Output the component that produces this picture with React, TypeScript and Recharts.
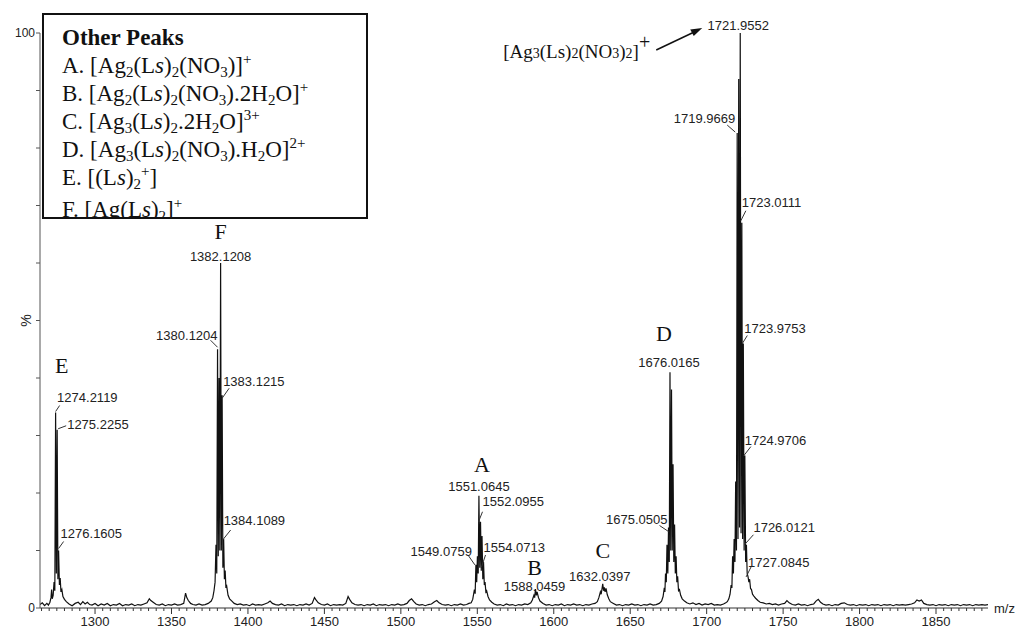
import React from 'react';
import { LineChart, Line, XAxis, YAxis, ReferenceDot } from 'recharts';

// spectrum pieces, [m/z, %]
const noise: [number, number][] = [
  [1264, 0.6], [1265.5, 0.9], [1267, 0.4], [1268.5, 0.8], [1269.5, 0.5],
  [1283, 0.7], [1285, 0.4], [1287, 0.8], [1289, 1.0], [1290.5, 0.6], [1292, 1.1], [1293.5, 0.7], [1295, 1.0], [1296.5, 0.6], [1298, 0.5],
  [1300, 0.8], [1302, 0.4], [1304, 0.7], [1306, 0.5], [1308, 0.8], [1310, 0.4], [1312, 0.6], [1314, 0.5], [1316, 0.8], [1318, 0.4],
  [1320, 0.6], [1322, 0.5], [1324, 0.7], [1326, 0.4], [1328, 0.6], [1330, 0.5], [1332, 0.7], [1334, 0.9], [1335.5, 1.6], [1336.5, 1.3],
  [1338, 1.0], [1340, 0.6], [1342, 0.5], [1344, 0.7], [1346, 0.4], [1348, 0.6], [1350, 0.5], [1352, 0.7], [1354, 0.5], [1356, 0.6],
  [1358, 0.8], [1359.2, 2.6], [1360, 1.8], [1361, 1.3], [1362.5, 0.8], [1364, 0.6], [1366, 0.5], [1368, 0.7], [1370, 0.5], [1372, 0.6], [1374, 0.8],
  [1391, 0.8], [1393, 0.6], [1395, 0.7], [1397, 0.5], [1399, 0.6], [1401, 0.4], [1403, 0.7], [1405, 0.5], [1407, 0.6], [1409, 0.5],
  [1411, 0.7], [1413, 0.9], [1414.5, 1.2], [1416, 0.8], [1418, 0.6], [1420, 0.5], [1422, 0.7], [1424, 0.4], [1426, 0.6], [1428, 0.5],
  [1430, 0.6], [1432, 0.4], [1434, 0.6], [1436, 0.5], [1438, 0.7], [1440, 0.5], [1442, 0.8], [1443.5, 1.8], [1444.5, 1.4], [1446, 0.9],
  [1448, 0.6], [1450, 0.5], [1452, 0.7], [1454, 0.4], [1456, 0.6], [1458, 0.5], [1460, 0.6], [1462, 0.5], [1464, 0.8], [1465.5, 2.0],
  [1466.5, 1.5], [1468, 0.9], [1470, 0.6], [1472, 0.5], [1474, 0.6], [1476, 0.4], [1478, 0.6], [1480, 0.5], [1482, 0.7], [1484, 0.4],
  [1486, 0.6], [1488, 0.5], [1490, 0.6], [1492, 0.4], [1494, 0.6], [1496, 0.5], [1498, 0.7], [1500, 0.5], [1502, 0.6], [1504, 0.8],
  [1505.5, 1.3], [1507, 1.6], [1508.5, 1.1], [1510, 0.7], [1512, 0.5], [1514, 0.6], [1516, 0.4], [1518, 0.6], [1520, 0.7], [1522, 1.1],
  [1523.5, 1.3], [1525, 0.9], [1527, 0.6], [1529, 0.5], [1531, 0.6], [1533, 0.4], [1535, 0.6], [1537, 0.5], [1539, 0.7], [1541, 0.5],
  [1543, 0.6], [1544.5, 0.8],
  [1561, 0.7], [1563, 0.5], [1565, 0.6], [1567, 0.4], [1569, 0.7], [1571, 0.5], [1573, 0.6], [1575, 0.4], [1577, 0.6], [1579, 0.5], [1581, 0.7], [1583, 0.6],
  [1593, 0.8], [1595, 0.5], [1597, 0.6], [1599, 0.4], [1601, 0.6], [1603, 0.5], [1605, 0.7], [1607, 0.4], [1609, 0.6], [1611, 0.5],
  [1613, 0.7], [1615, 0.5], [1617, 0.6], [1619, 0.4], [1621, 0.6], [1623, 0.5], [1625, 0.7], [1627, 0.8],
  [1639, 0.8], [1641, 0.5], [1643, 0.6], [1645, 0.4], [1647, 0.6], [1649, 0.5], [1651, 0.7], [1653, 0.5], [1655, 0.6], [1657, 0.4],
  [1659, 0.6], [1661, 0.5], [1663, 0.7], [1665, 0.5], [1667, 0.6], [1669, 0.8],
  [1687, 0.9], [1689, 0.7], [1691, 0.9], [1693, 0.6], [1695, 0.8], [1697, 0.5], [1699, 0.7], [1701, 0.6], [1703, 0.8], [1705, 0.5],
  [1707, 0.6], [1709, 0.5], [1711, 0.7], [1712.5, 0.9],
  [1737, 0.9], [1739, 0.7], [1741, 0.8], [1743, 0.6], [1745, 0.7], [1747, 0.5], [1749, 0.7], [1751, 0.8], [1752.5, 1.3], [1754, 0.9],
  [1756, 0.6], [1758, 0.5], [1760, 0.7], [1762, 0.5], [1764, 0.6], [1766, 0.4], [1768, 0.6], [1770, 0.7], [1771.5, 1.2], [1773, 1.5],
  [1774.5, 1.0], [1776, 0.7], [1778, 0.5], [1780, 0.6], [1782, 0.4], [1784, 0.6], [1786, 0.5], [1788, 0.8], [1790, 0.9], [1792, 0.6],
  [1794, 0.5], [1796, 0.6], [1798, 0.4], [1800, 0.6], [1802, 0.5], [1804, 0.6], [1806, 0.4], [1808, 0.6], [1810, 0.5], [1812, 0.6],
  [1814, 0.4], [1816, 0.6], [1818, 0.5], [1820, 0.6], [1822, 0.4], [1824, 0.6], [1826, 0.5], [1828, 0.6], [1830, 0.5], [1832, 0.6],
  [1834, 0.7], [1836, 0.9], [1837.5, 1.4], [1839, 1.2], [1840.5, 1.4], [1842, 0.8], [1844, 0.6], [1846, 0.5], [1848, 0.6], [1850, 0.4],
  [1852, 0.6], [1854, 0.5], [1856, 0.6], [1858, 0.4], [1860, 0.6], [1862, 0.5], [1864, 0.6], [1866, 0.4], [1868, 0.6], [1870, 0.5],
  [1872, 0.6], [1874, 0.4], [1876, 0.6], [1878, 0.5], [1880, 0.6], [1882, 0.5], [1884, 0.6],
];

const clusterE: [number, number][] = [
  [1270.5, 1.0], [1271.2, 1.8], [1271.6, 3.2], [1272.0, 1.6], [1272.6, 2.2], [1273.2, 4.5], [1273.7, 3.0], [1274.21, 34],
  [1274.7, 6], [1275.23, 31], [1275.7, 5], [1276.16, 10], [1276.7, 4], [1277.2, 5.2], [1277.7, 2.8], [1278.3, 3.2],
  [1279, 2], [1280, 1.5], [1281.2, 1.1],
];

const clusterF: [number, number][] = [
  [1376, 1.2], [1377, 1.8], [1377.8, 3], [1378.5, 4.5], [1379.1, 11], [1379.6, 6], [1380.12, 45], [1380.6, 9],
  [1381.1, 40], [1381.6, 10], [1382.12, 60], [1382.6, 10], [1383.12, 37], [1383.6, 7], [1384.11, 12], [1384.6, 5],
  [1385.1, 6.5], [1385.6, 3.5], [1386.1, 3.8], [1387, 2.2], [1388, 1.6], [1389.5, 1.2],
];

const clusterA: [number, number][] = [
  [1546, 0.9], [1547, 1.5], [1548.1, 3.2], [1548.6, 2.5], [1549.08, 7.5], [1549.6, 4.5], [1550.07, 9], [1550.6, 6],
  [1551.06, 19.5], [1551.6, 7], [1552.1, 15], [1552.6, 6.5], [1553.08, 12.5], [1553.6, 5], [1554.07, 8], [1554.6, 4],
  [1555.07, 4.5], [1555.6, 2.8], [1556.1, 3], [1557, 2], [1558, 1.4], [1559.5, 1],
];

const clusterB: [number, number][] = [
  [1585, 0.9], [1586, 1.4], [1587, 2.2], [1587.5, 1.8], [1588.05, 3.3], [1588.6, 2.2], [1589.1, 2.8], [1590, 1.8], [1591, 1.2],
];

const clusterC: [number, number][] = [
  [1628.5, 1.1], [1629.5, 1.8], [1630.5, 2.8], [1631, 2.4], [1631.6, 3.4], [1632.04, 4.2], [1632.6, 3], [1633.1, 3.6],
  [1633.6, 2.8], [1634.2, 3.4], [1635, 2.3], [1636, 1.6], [1637, 1.1],
];

const clusterD: [number, number][] = [
  [1670.5, 1.2], [1671.5, 2], [1672.3, 3.5], [1672.7, 2.8], [1673.1, 6], [1673.6, 4.5], [1674.05, 11], [1674.6, 6],
  [1675.05, 14], [1675.55, 8], [1676.02, 41], [1676.5, 10], [1677.02, 38], [1677.5, 10], [1678.02, 25], [1678.5, 8],
  [1679.02, 14.5], [1679.5, 6], [1680.02, 9], [1680.5, 4.5], [1681.02, 5.5], [1681.6, 3], [1682.2, 3.2], [1683, 2.2],
  [1684, 1.6], [1685.5, 1.2],
];

const clusterMain: [number, number][] = [
  [1713.5, 1.1], [1714.5, 1.6], [1715.3, 2.4], [1716, 4], [1716.5, 3.5], [1716.97, 9], [1717.5, 6], [1717.97, 12],
  [1718.5, 8], [1718.97, 22], [1719.5, 10], [1719.97, 82.6], [1720.5, 12], [1720.96, 92], [1721.5, 14], [1721.96, 100],
  [1722.5, 13], [1723.01, 67], [1723.5, 12], [1723.98, 46], [1724.5, 10], [1724.97, 26.5], [1725.5, 8], [1726.01, 11],
  [1726.5, 6], [1727.08, 5.4], [1727.6, 4.5], [1728.1, 5], [1728.7, 3.4], [1729.3, 3.2], [1730, 2.4], [1731, 2],
  [1732, 1.7], [1733.5, 1.3], [1735, 1],
];

// labelled peaks
const labelText = [
  '1274.2119', '1275.2255', '1276.1605', '1380.1204', '1382.1208', '1383.1215', '1384.1089',
  '1549.0759', '1551.0645', '1552.0955', '1554.0713', '1588.0459', '1632.0397', '1675.0505',
  '1676.0165', '1719.9669', '1721.9552', '1723.0111', '1723.9753', '1724.9706', '1726.0121', '1727.0845',
];
const labelInt = [34, 31, 10, 45, 60, 37, 12, 7.5, 19.5, 15, 8, 3.3, 4.2, 14, 41, 82.6, 100, 67, 46, 26.5, 11, 5.4];

const letters = ['E', 'F', 'A', 'B', 'C', 'D'];
const letterPeak = [0, 4, 8, 11, 12, 14];

const yTicks = [0, 10, 20, 30, 40, 50, 60, 70, 80, 90, 100];

const legendTitle = 'Other Peaks';
// parts: [text, kind]  kind: n normal, b sub, p sup, i italic
const legendLines: [string, string][][] = [
  [['A. [Ag', 'n'], ['2', 'b'], ['(L', 'n'], ['s', 'i'], [')', 'n'], ['2', 'b'], ['(NO', 'n'], ['3', 'b'], [')]', 'n'], ['+', 'p']],
  [['B. [Ag', 'n'], ['2', 'b'], ['(L', 'n'], ['s', 'i'], [')', 'n'], ['2', 'b'], ['(NO', 'n'], ['3', 'b'], [').2H', 'n'], ['2', 'b'], ['O]', 'n'], ['+', 'p']],
  [['C. [Ag', 'n'], ['3', 'b'], ['(L', 'n'], ['s', 'i'], [')', 'n'], ['2', 'b'], ['.2H', 'n'], ['2', 'b'], ['O]', 'n'], ['3+', 'p']],
  [['D. [Ag', 'n'], ['3', 'b'], ['(L', 'n'], ['s', 'i'], [')', 'n'], ['2', 'b'], ['(NO', 'n'], ['3', 'b'], [').H', 'n'], ['2', 'b'], ['O]', 'n'], ['2+', 'p']],
  [['E. [(L', 'n'], ['s', 'i'], [')', 'n'], ['2', 'b'], ['+', 'p'], [']', 'n']],
  [['F. [Ag(L', 'n'], ['s', 'i'], [')', 'n'], ['2', 'b'], [']', 'n'], ['+', 'p']],
];
const mainIon: [string, string][] = [['[Ag', 'n'], ['3', 'b'], ['(Ls)', 'n'], ['2', 'b'], ['(NO', 'n'], ['3', 'b'], [')', 'n'], ['2', 'b'], [']', 'n'], ['+', 'p']];

const spectrum = [...noise, ...clusterE, ...clusterF, ...clusterA, ...clusterB, ...clusterC, ...clusterD, ...clusterMain]
  .sort((a, b) => a[0] - b[0])
  .map(([mz, v]) => ({ mz, v }));

const minorTicks = Array.from({ length: 124 }, (_, i) => 1265 + i * 5);

const SANS = "'Liberation Sans', Arial, Helvetica, sans-serif";
const SERIF = "'Liberation Serif', 'Times New Roman', serif";

// label layout: anchor, dx, dy (text centre), connector [x1,y1,x2,y2] from apex
const labelLayout: [string, number, number, number[] | null][] = [
  ['start', 1.5, -15.5, [0, -1, 4, -7]],
  ['start', 10, -5, [1, -1, 9, -4]],
  ['start', 2, -17, [0, -2, 5, -9]],
  ['end', 0, -14, [-7, -9, 0, -2]],
  ['middle', 0, -7, null],
  ['start', 1, -14, [0, 3, 7, -7]],
  ['start', 0, -19, [-1, 1, 7, -9]],
  ['end', -4, -13, [-8, -10, -1, 0]],
  ['middle', 0, -9, null],
  ['start', 2, -20, [-2, 0, 2, -10]],
  ['start', 0, -15, [-2, 5, 2, -7]],
  ['middle', -1, -3, null],
  ['middle', -3, -7, null],
  ['end', -1, -8, [-9, -2, 0, 4]],
  ['middle', -1, -10, null],
  ['end', -2, -15, [-10, -8, -2, -1]],
  ['middle', -2, -8, null],
  ['start', 0, -20, [-1, -2, 4, -12]],
  ['start', 1, -15, [-1, 0, 4, -8]],
  ['start', 0, -15, [-1, 0, 6, -9]],
  ['start', 7, -17, [-2, 0, 7, -10]],
  ['start', 0, -15, [-2, 0, 3, -10]],
];
const letterLayout = [[6, -47], [0, -31], [3, -31], [-1, -21], [0, -33], [-6, -39]];

const XTick = (p: any) => {
  const major = p.payload.value % 50 === 0;
  return (
    <g>
      <line x1={p.x} y1={p.y} x2={p.x} y2={p.y + (major ? 6 : 3)} stroke="#333" />
      {major && (
        <text x={p.x} y={p.y + 18} textAnchor="middle" fontSize={13} fontFamily={SANS} fill="#222">
          {p.payload.value}
        </text>
      )}
    </g>
  );
};

const YTick = (p: any) => {
  const v = p.payload.value;
  return (
    <g>
      <line x1={p.x - 4} y1={p.y} x2={p.x} y2={p.y} stroke="#555" />
      {(v === 0 || v === 100) && (
        <text x={p.x - 5} y={p.y + 4} textAnchor="end" fontSize={12} fontFamily={SANS} fill="#222">
          {v}
        </text>
      )}
    </g>
  );
};

const partsToTspans = (parts: [string, string][]) =>
  parts.map(([t, k], i) => {
    if (k === 'b') return <tspan key={i} fontSize={14}>{t}</tspan>;
    if (k === 'p') return <tspan key={i} fontSize={20} dy={-9}>{t}</tspan>;
    return <tspan key={i}>{t}</tspan>;
  });

const htmlParts = (parts: [string, string][]) =>
  parts.map(([t, k], i) => {
    if (k === 'b') return <span key={i} style={{ fontSize: 15, lineHeight: 0, position: 'relative', top: 4 }}>{t}</span>;
    if (k === 'p') return <span key={i} style={{ fontSize: 15, lineHeight: 0, position: 'relative', top: -9 }}>{t}</span>;
    if (k === 'i') return <i key={i}>{t}</i>;
    return <span key={i}>{t}</span>;
  });

export default function App() {
  return (
    <div style={{ position: 'relative', width: 1018, height: 632, background: '#fff' }}>
      <style>{'body{margin:0;}'}</style>
      <LineChart width={1018} height={632} data={spectrum} margin={{ top: 33, right: 30, bottom: 0, left: 0 }}>
        <XAxis
          dataKey="mz"
          type="number"
          domain={[1264, 1884]}
          ticks={minorTicks}
          interval={0}
          tickSize={0}
          tickMargin={0}
          height={24}
          allowDataOverflow
          axisLine={{ stroke: '#333' }}
          tick={(p: any) => <XTick {...p} />}
        />
        <YAxis
          type="number"
          domain={[0, 100]}
          ticks={yTicks}
          interval={0}
          tickSize={0}
          tickMargin={0}
          width={40}
          axisLine={{ stroke: '#555' }}
          tick={(p: any) => <YTick {...p} />}
        />
        <Line dataKey="v" type="linear" stroke="#111" strokeWidth={1.2} dot={false} isAnimationActive={false} />

        {labelText.map((t, i) => {
          const [anchor, dx, dy, ln] = labelLayout[i];
          return (
            <ReferenceDot
              key={t}
              x={Number(t)}
              y={labelInt[i]}
              r={0}
              ifOverflow="visible"
              shape={(p: any) => (
                <g>
                  {ln && <line x1={p.cx + ln[0]} y1={p.cy + ln[1]} x2={p.cx + ln[2]} y2={p.cy + ln[3]} stroke="#333" />}
                  <text x={p.cx + dx} y={p.cy + dy + 4.6} textAnchor={anchor} fontSize={13} fontFamily={SANS} fill="#222">
                    {t}
                  </text>
                </g>
              )}
            />
          );
        })}

        {letters.map((l, i) => (
          <ReferenceDot
            key={l}
            x={Number(labelText[letterPeak[i]])}
            y={labelInt[letterPeak[i]]}
            r={0}
            ifOverflow="visible"
            shape={(p: any) => (
              <text x={p.cx + letterLayout[i][0]} y={p.cy + letterLayout[i][1] + 7.3} textAnchor="middle" fontSize={22} fontFamily={SERIF} fill="#111">
                {l}
              </text>
            )}
          />
        ))}

        <ReferenceDot
          x={Number(labelText[16])}
          y={labelInt[16]}
          r={0}
          ifOverflow="visible"
          shape={(p: any) => (
            <g>
              <text x={p.cx - 237} y={p.cy + 25} fontSize={19} fontFamily={SERIF} fill="#111">
                {partsToTspans(mainIon)}
              </text>
              <line x1={p.cx - 84} y1={p.cy + 17} x2={p.cx - 46} y2={p.cy - 1} stroke="#111" strokeWidth={1.5} />
              <path d={`M${p.cx - 38},${p.cy - 5} L${p.cx - 50},${p.cy - 3.5} L${p.cx - 46.5},${p.cy + 3} Z`} fill="#111" />
            </g>
          )}
        />

        <ReferenceDot
          x={1264}
          y={50}
          r={0}
          ifOverflow="visible"
          shape={(p: any) => (
            <text x={p.cx - 9} y={p.cy} transform={`rotate(-90 ${p.cx - 9} ${p.cy})`} textAnchor="middle" fontSize={14} fontFamily={SANS} fill="#222">
              %
            </text>
          )}
        />
        <ReferenceDot
          x={1884}
          y={0}
          r={0}
          ifOverflow="visible"
          shape={(p: any) => (
            <text x={p.cx + 6} y={p.cy + 5} fontSize={13} fontFamily={SANS} fill="#222">
              m/z
            </text>
          )}
        />
      </LineChart>

      <div
        style={{
          position: 'absolute',
          left: 42,
          top: 13,
          width: 304,
          height: 193,
          border: '2px solid #111',
          background: '#fff',
          overflow: 'hidden',
          fontFamily: SERIF,
          fontSize: 23,
          lineHeight: '28px',
          color: '#111',
          padding: '9px 0 0 18px',
          boxSizing: 'content-box',
          whiteSpace: 'nowrap',
        }}
      >
        <div style={{ fontWeight: 'bold' }}>{legendTitle}</div>
        {legendLines.map((parts, i) => (
          <div key={i} style={{ marginTop: i === legendLines.length - 1 ? 4 : 0 }}>
            {htmlParts(parts)}
          </div>
        ))}
      </div>
    </div>
  );
}
